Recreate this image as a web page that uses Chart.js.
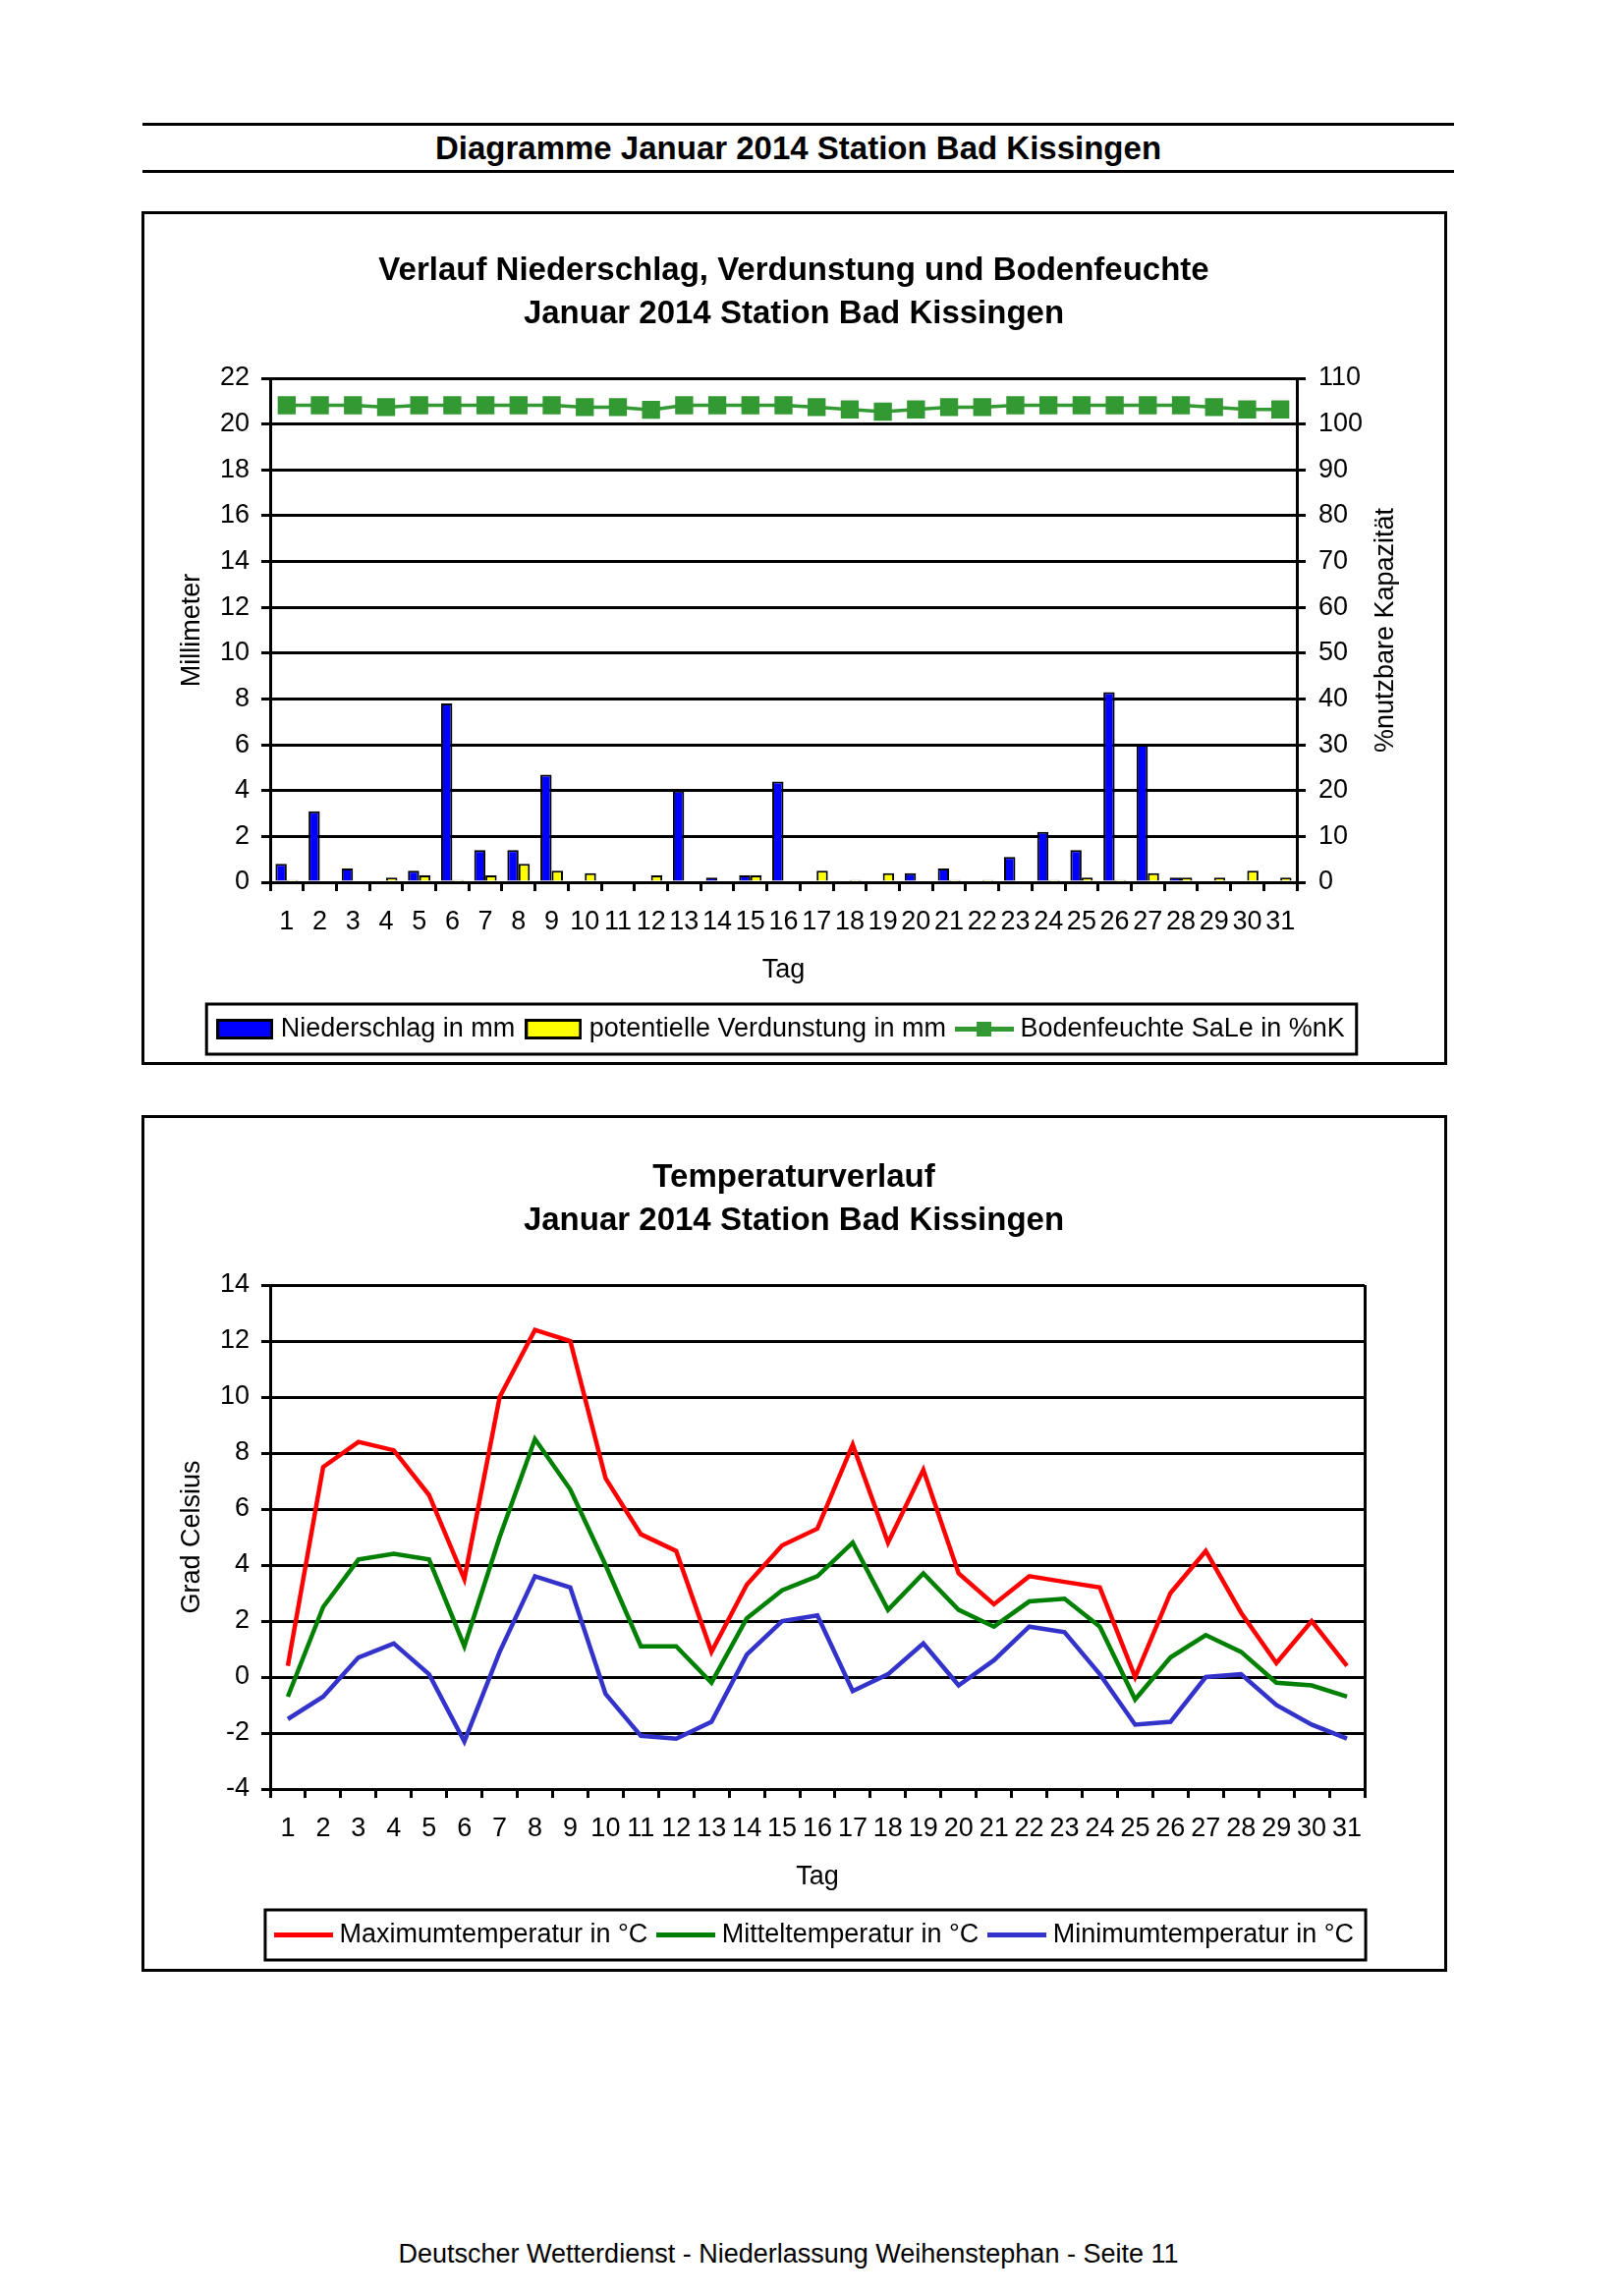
<!DOCTYPE html>
<html>
<head>
<meta charset="utf-8">
<script src="https://cdn.jsdelivr.net/npm/chart.js@4.4.1/dist/chart.umd.min.js"></script>
<style>
  body { margin: 0; background: #fff; font-family: "Liberation Sans", Arial, sans-serif; }
  #page { position: relative; width: 1653px; height: 2337px; overflow: hidden; }
  .rule { position: absolute; left: 145px; width: 1335px; height: 0; border-top: 3px solid #000; }
  #header { position: absolute; left: 145px; width: 1335px; top: 130px; height: 42px; line-height: 42px;
            text-align: center; font-weight: bold; font-size: 33px; }
  .box { position: absolute; left: 144px; width: 1329px; box-sizing: border-box; border: 3px solid #000; }
  canvas { position: absolute; left: 145px; }
  #footer { position: absolute; left: 0; width: 1605px; top: 2279px; text-align: center; font-size: 27px; }
</style>
</head>
<body>
<div id="page">
  <div class="rule" style="top:125px"></div>
  <div id="header">Diagramme Januar 2014 Station Bad Kissingen</div>
  <div class="rule" style="top:173px"></div>

  <div class="box" style="top:215px; height:869px"></div>
  <canvas id="chart-rain" width="1326" height="866" style="top:216px"></canvas>

  <div class="box" style="top:1135px; height:872px"></div>
  <canvas id="chart-temp" width="1326" height="869" style="top:1136px"></canvas>

  <div id="footer">Deutscher Wetterdienst - Niederlassung Weihenstephan - Seite 11</div>
</div>

<script>
// Tage im Januar
const days = ["1", "2", "3", "4", "5", "6", "7", "8", "9", "10", "11", "12", "13", "14", "15", "16",
  "17", "18", "19", "20", "21", "22", "23", "24", "25", "26", "27", "28", "29", "30", "31"];

// Niederschlag / Verdunstung in mm, Bodenfeuchte in %nK
const niederschlag = [0.8, 3.1, 0.6, 0, 0.5, 7.8, 1.4, 1.4, 4.7, 0, 0, 0, 4.0, 0.2, 0.3, 4.4,
  0, 0, 0, 0.4, 0.6, 0, 1.1, 2.2, 1.4, 8.3, 6.0, 0.2, 0, 0, 0];
const verdunstung = [0.1, 0, 0, 0.2, 0.3, 0.1, 0.3, 0.8, 0.5, 0.4, 0, 0.3, 0, 0, 0.3, 0,
  0.5, 0.1, 0.4, 0, 0.1, 0.1, 0, 0.1, 0.2, 0.1, 0.4, 0.2, 0.2, 0.5, 0.2];
const bodenfeuchte = [104.1, 104.1, 104.1, 103.7, 104.1, 104.1, 104.1, 104.1, 104.1, 103.7, 103.7, 103.1,
  104.1, 104.1, 104.1, 104.1, 103.7, 103.2, 102.7, 103.2, 103.7, 103.7, 104.1, 104.1, 104.1, 104.1,
  104.1, 104.1, 103.7, 103.2, 103.2];

// Temperaturen in °C
const tempMax = [0.4, 7.5, 8.4, 8.1, 6.5, 3.5, 10.0, 12.4, 12.0, 7.1, 5.1, 4.5, 0.9, 3.3, 4.7, 5.3,
  8.3, 4.8, 7.4, 3.7, 2.6, 3.6, 3.4, 3.2, 0.0, 3.0, 4.5, 2.3, 0.5, 2.0, 0.4];
const tempMittel = [-0.7, 2.5, 4.2, 4.4, 4.2, 1.1, 5.0, 8.5, 6.7, 4.0, 1.1, 1.1, -0.2, 2.1, 3.1, 3.6,
  4.8, 2.4, 3.7, 2.4, 1.8, 2.7, 2.8, 1.8, -0.8, 0.7, 1.5, 0.9, -0.2, -0.3, -0.7];
const tempMin = [-1.5, -0.7, 0.7, 1.2, 0.1, -2.3, 0.9, 3.6, 3.2, -0.6, -2.1, -2.2, -1.6, 0.8, 2.0, 2.2,
  -0.5, 0.1, 1.2, -0.3, 0.6, 1.8, 1.6, 0.1, -1.7, -1.6, 0.0, 0.1, -1.0, -1.7, -2.2];

const rainTitle = ["Verlauf Niederschlag, Verdunstung und Bodenfeuchte", "Januar 2014 Station Bad Kissingen"];
const tempTitle = ["Temperaturverlauf", "Januar 2014 Station Bad Kissingen"];
const rainLabels = ["Niederschlag in mm", "potentielle Verdunstung in mm", "Bodenfeuchte SaLe in %nK"];
const tempLabels = ["Maximumtemperatur in °C", "Mitteltemperatur in °C", "Minimumtemperatur in °C"];
const rightAxisTitle = "%nutzbare Kapazität";

const FONT = '"Liberation Sans", Arial, sans-serif';
Chart.defaults.font.family = FONT;
Chart.defaults.font.size = 27;
Chart.defaults.color = "#000";
Chart.defaults.animation = false;

// kleine Bildchen für die Legende
function boxIcon(color) {
  const c = document.createElement("canvas");
  c.width = 58; c.height = 21;
  const g = c.getContext("2d");
  g.fillStyle = "#000";
  g.fillRect(0, 0, 58, 21);
  g.fillStyle = color;
  g.fillRect(3, 3, 52, 15);
  return c;
}
function lineIcon(color, marker) {
  const c = document.createElement("canvas");
  c.width = 60; c.height = 15;
  const g = c.getContext("2d");
  g.fillStyle = color;
  g.fillRect(0, 5, 60, 5);
  if (marker) g.fillRect(22, 0, 15, 15);
  return c;
}

function legendWithIcons(icons) {
  return {
    position: "bottom",
    labels: {
      usePointStyle: true,
      pointStyleWidth: 46,
      padding: 16,
      font: { size: 27 },
      generateLabels(chart) {
        const items = Chart.defaults.plugins.legend.labels.generateLabels(chart);
        items.forEach((it, i) => { it.pointStyle = icons[i]; });
        return items;
      },
    },
  };
}

// Legende mittig unter der Zeichenfläche
const centerLegend = {
  id: "centerLegend",
  afterLayout(chart) {
    const lg = chart.legend;
    const a = chart.chartArea;
    const d = (a.left + a.right) / 2 - (lg.left + lg.right) / 2;
    lg.left += d;
    lg.right += d;
  },
};

// Rahmen um die Legende
const legendFrame = {
  id: "legendFrame",
  afterDraw(chart) {
    const boxes = chart.legend.legendHitBoxes;
    if (!boxes.length) return;
    const left = Math.min(...boxes.map((b) => b.left)) - 16;
    const right = Math.max(...boxes.map((b) => b.left + b.width)) + 12;
    const mid = boxes[0].top + boxes[0].height / 2;
    const ctx = chart.ctx;
    ctx.save();
    ctx.lineWidth = 3;
    ctx.strokeStyle = "#000";
    ctx.strokeRect(left, mid - 25.5, right - left, 51);
    ctx.restore();
  },
};

// rechte Achsenbeschriftung, von unten nach oben lesbar
const rightTitle = {
  id: "rightTitle",
  afterDraw(chart) {
    const s = chart.scales.y1;
    const ctx = chart.ctx;
    ctx.save();
    ctx.translate(s.right - 60, (chart.chartArea.top + chart.chartArea.bottom) / 2);
    ctx.rotate(-Math.PI / 2);
    ctx.font = "27px " + FONT;
    ctx.fillStyle = "#000";
    ctx.textAlign = "center";
    ctx.textBaseline = "middle";
    ctx.fillText(rightAxisTitle, 0, 0);
    ctx.restore();
  },
};

// rechter Rand der Zeichenfläche
const rightEdge = {
  id: "rightEdge",
  afterDraw(chart) {
    const a = chart.chartArea;
    const ctx = chart.ctx;
    ctx.save();
    ctx.lineWidth = 3;
    ctx.strokeStyle = "#000";
    ctx.beginPath();
    ctx.moveTo(a.right + 0.5, a.top);
    ctx.lineTo(a.right + 0.5, a.bottom);
    ctx.stroke();
    ctx.restore();
  },
};

function xAxis(height, titleGap) {
  return {
    offset: true,
    grid: { offset: true, drawOnChartArea: false, drawTicks: true, tickLength: 9, color: "#000", lineWidth: 3 },
    border: { color: "#000", width: 3 },
    ticks: { autoSkip: false, maxRotation: 0, minRotation: 0, padding: 15 },
    title: { display: true, text: "Tag", padding: { top: 0, bottom: titleGap } },
    afterFit(scale) { scale.height = height; },
  };
}

const rainChart = new Chart(document.getElementById("chart-rain"), {
  type: "bar",
  data: {
    labels: days,
    datasets: [
      {
        label: rainLabels[0],
        data: niederschlag,
        backgroundColor: "#0000ff",
        borderColor: "#000",
        borderWidth: 2,
        categoryPercentage: 0.68,
        barPercentage: 1.0,
        yAxisID: "y",
      },
      {
        label: rainLabels[1],
        data: verdunstung,
        backgroundColor: "#ffff00",
        borderColor: "#000",
        borderWidth: 2,
        categoryPercentage: 0.68,
        barPercentage: 1.0,
        yAxisID: "y",
      },
      {
        type: "line",
        label: rainLabels[2],
        data: bodenfeuchte,
        borderColor: "#339933",
        backgroundColor: "#339933",
        borderWidth: 3.5,
        pointStyle: "rect",
        pointRadius: 10.5,
        tension: 0,
        yAxisID: "y1",
      },
    ],
  },
  options: {
    responsive: false,
    devicePixelRatio: 1,
    layout: { padding: { top: 0, left: 0, right: 0, bottom: 11 } },
    plugins: {
      title: {
        display: true,
        text: rainTitle,
        font: { size: 33, weight: "bold", lineHeight: 1.3334 },
        padding: { top: 38, bottom: 43 },
      },
      legend: legendWithIcons([boxIcon("#0000ff"), boxIcon("#ffff00"), lineIcon("#339933", true)]),
      tooltip: { enabled: false },
    },
    scales: {
      x: xAxis(120, 13.8),
      y: {
        position: "left",
        min: 0,
        max: 22,
        ticks: { stepSize: 2, padding: 12 },
        grid: { color: "#000", lineWidth: 3, tickLength: 9 },
        border: { color: "#000", width: 3 },
        title: { display: true, text: "Millimeter", padding: { top: 34, bottom: 0 } },
        afterFit(scale) { scale.width = 130; },
      },
      y1: {
        position: "right",
        min: 0,
        max: 110,
        ticks: { stepSize: 10, padding: 13 },
        grid: { drawOnChartArea: false, color: "#000", lineWidth: 3, tickLength: 9 },
        border: { color: "#000", width: 3 },
        afterFit(scale) { scale.width = 151; },
      },
    },
  },
  plugins: [centerLegend, legendFrame, rightTitle],
});

const tempChart = new Chart(document.getElementById("chart-temp"), {
  type: "line",
  data: {
    labels: days,
    datasets: [
      { label: tempLabels[0], data: tempMax, borderColor: "#ff0000", backgroundColor: "#ff0000" },
      { label: tempLabels[1], data: tempMittel, borderColor: "#008000", backgroundColor: "#008000" },
      { label: tempLabels[2], data: tempMin, borderColor: "#3333cc", backgroundColor: "#3333cc" },
    ],
  },
  options: {
    responsive: false,
    devicePixelRatio: 1,
    elements: {
      line: { borderWidth: 4.5, tension: 0 },
      point: { radius: 0 },
    },
    layout: { padding: { top: 0, left: 0, right: 0, bottom: 12 } },
    plugins: {
      title: {
        display: true,
        text: tempTitle,
        font: { size: 33, weight: "bold", lineHeight: 1.3485 },
        padding: { top: 40.5, bottom: 42.5 },
      },
      legend: legendWithIcons([lineIcon("#ff0000"), lineIcon("#008000"), lineIcon("#3333cc")]),
      tooltip: { enabled: false },
    },
    scales: {
      x: xAxis(119, 12.8),
      y: {
        position: "left",
        min: -4,
        max: 14,
        ticks: { stepSize: 2, padding: 12 },
        grid: { color: "#000", lineWidth: 3, tickLength: 9 },
        border: { color: "#000", width: 3 },
        title: { display: true, text: "Grad Celsius", padding: { top: 34, bottom: 0 } },
        afterFit(scale) { scale.width = 130; },
      },
      // leerer Platz rechts, ohne Beschriftung
      y2: {
        position: "right",
        min: 0,
        max: 1,
        ticks: { display: false },
        grid: { display: false, drawTicks: false },
        border: { display: false },
        afterFit(scale) { scale.width = 82; },
      },
    },
  },
  plugins: [centerLegend, legendFrame, rightEdge],
});
</script>
</body>
</html>
